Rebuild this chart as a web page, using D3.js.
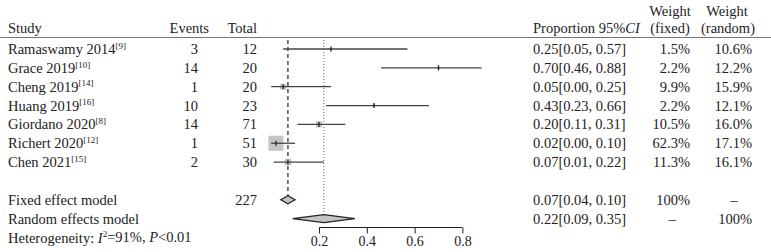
<!DOCTYPE html>
<html>
<head>
<meta charset="utf-8">
<script src="https://cdn.jsdelivr.net/npm/d3@7"></script>
<style>
  body { margin: 0; background: #fff; }
  svg text { font-family: "Liberation Serif", "DejaVu Serif", serif; font-size: 14.5px; fill: #222; }
</style>
</head>
<body>
<div id="chart"></div>
<script>
// study data
const studies = ["Ramaswamy 2014", "Grace 2019", "Cheng 2019", "Huang 2019", "Giordano 2020", "Richert 2020", "Chen 2021"];
const refs = ["[9]", "[10]", "[14]", "[16]", "[8]", "[12]", "[15]"];
const events = [3, 14, 1, 10, 14, 1, 2];
const totals = [12, 20, 20, 23, 71, 51, 30];
const prop = [0.25, 0.70, 0.05, 0.43, 0.20, 0.02, 0.07];
const lower = [0.05, 0.46, 0.00, 0.23, 0.11, 0.00, 0.01];
const upper = [0.57, 0.88, 0.25, 0.66, 0.31, 0.10, 0.22];
const wFixed = [1.5, 2.2, 9.9, 2.2, 10.5, 62.3, 11.3];
const wRandom = [10.6, 12.2, 15.9, 12.1, 16.0, 17.1, 16.1];

// pooled estimates
const fixedEst = [0.07, 0.04, 0.10];
const randomEst = [0.22, 0.09, 0.35];
const fixedTotal = 227;
const xTicks = [0.2, 0.4, 0.6, 0.8];

const width = 771, height = 252;

const svg = d3.select("#chart").append("svg")
    .attr("width", width)
    .attr("height", height);

// scales
const x = d3.scaleLinear().domain([0, 1]).range([271.2, 510.2]);
const rowNames = studies.concat(["blank", "fixed", "random", "het"]);
const y = d3.scalePoint().domain(rowNames).range([49, 237.5]);
const side = d3.scaleSqrt().domain([0, 62.3]).range([0, 15]);

const fmt = d3.format(".2f");

// header
const header = svg.append("g").attr("class", "header");
header.append("text").attr("x", 8).attr("y", 33).text("Study");
header.append("text").attr("x", 209).attr("y", 33).attr("text-anchor", "end").text("Events");
header.append("text").attr("x", 257).attr("y", 33).attr("text-anchor", "end").text("Total");
const ph = header.append("text").attr("x", 533).attr("y", 33);
ph.append("tspan").text("Proportion 95%");
ph.append("tspan").attr("font-style", "italic").text("CI");
header.append("text").attr("x", 670).attr("y", 16).attr("text-anchor", "middle").text("Weight");
header.append("text").attr("x", 670).attr("y", 33).attr("text-anchor", "middle").text("(fixed)");
header.append("text").attr("x", 727).attr("y", 16).attr("text-anchor", "middle").text("Weight");
header.append("text").attr("x", 728).attr("y", 33).attr("text-anchor", "middle").text("(random)");

svg.append("line")
    .attr("x1", 0).attr("x2", width)
    .attr("y1", 37.5).attr("y2", 37.5)
    .attr("stroke", "#777").attr("stroke-width", 1);

// reference lines
svg.append("line")
    .attr("x1", x(fixedEst[0])).attr("x2", x(fixedEst[0]))
    .attr("y1", 40).attr("y2", y("fixed") - 4)
    .attr("stroke", "#333").attr("stroke-width", 1.3)
    .attr("stroke-dasharray", "4,3");
svg.append("line")
    .attr("x1", x(randomEst[0])).attr("x2", x(randomEst[0]))
    .attr("y1", 40).attr("y2", y("random") - 4)
    .attr("stroke", "#666").attr("stroke-width", 1)
    .attr("stroke-dasharray", "1,2");

// study rows
const rows = svg.append("g").selectAll("g")
    .data(studies)
    .join("g")
    .attr("transform", d => `translate(0,${y(d)})`);

rows.append("text")
    .attr("x", 8).attr("dy", "0.35em")
    .text(d => d)
    .append("tspan")
    .attr("font-size", "9px")
    .attr("dy", "-0.6em")
    .text((d, i) => refs[i]);

rows.append("text")
    .attr("x", 198).attr("dy", "0.35em").attr("text-anchor", "end")
    .text((d, i) => events[i]);
rows.append("text")
    .attr("x", 257).attr("dy", "0.35em").attr("text-anchor", "end")
    .text((d, i) => totals[i]);
rows.append("text")
    .attr("x", 533).attr("dy", "0.35em")
    .text((d, i) => `${fmt(prop[i])}[${fmt(lower[i])}, ${fmt(upper[i])}]`);
rows.append("text")
    .attr("x", 690).attr("dy", "0.35em").attr("text-anchor", "end")
    .text((d, i) => wFixed[i].toFixed(1) + "%");
rows.append("text")
    .attr("x", 752).attr("dy", "0.35em").attr("text-anchor", "end")
    .text((d, i) => wRandom[i].toFixed(1) + "%");

// squares
rows.append("rect")
    .attr("x", (d, i) => x(prop[i]) - side(wFixed[i]) / 2)
    .attr("y", (d, i) => -side(wFixed[i]) / 2)
    .attr("width", (d, i) => side(wFixed[i]))
    .attr("height", (d, i) => side(wFixed[i]))
    .attr("fill", "#c4c4c4");

// CI lines
rows.append("line")
    .attr("x1", (d, i) => x(lower[i]))
    .attr("x2", (d, i) => x(upper[i]))
    .attr("stroke", "#444").attr("stroke-width", 1.3);

rows.append("line")
    .attr("x1", (d, i) => x(prop[i]))
    .attr("x2", (d, i) => x(prop[i]))
    .attr("y1", -2.5).attr("y2", 2.5)
    .attr("stroke", "#222").attr("stroke-width", 1.3);

// pooled rows
function diamond(est, yc, h) {
    return `M${x(est[1])},${yc} L${x(est[0])},${yc - h} L${x(est[2])},${yc} L${x(est[0])},${yc + h} Z`;
}
svg.append("path")
    .attr("d", diamond(fixedEst, y("fixed"), 4))
    .attr("fill", "#c4c4c4").attr("stroke", "#222").attr("stroke-width", 1.2);
svg.append("path")
    .attr("d", diamond(randomEst, y("random"), 4))
    .attr("fill", "#c4c4c4").attr("stroke", "#222").attr("stroke-width", 1.2);

const pooled = [
    {row: "fixed", label: "Fixed effect model", total: fixedTotal, est: fixedEst, wf: "100%", wr: "\u2013"},
    {row: "random", label: "Random effects model", total: "", est: randomEst, wf: "\u2013", wr: "100%"}
];
const prow = svg.append("g").selectAll("g")
    .data(pooled)
    .join("g")
    .attr("transform", d => `translate(0,${y(d.row)})`);
prow.append("text").attr("x", 8).attr("dy", "0.35em").text(d => d.label);
prow.append("text").attr("x", 257).attr("dy", "0.35em").attr("text-anchor", "end").text(d => d.total);
prow.append("text").attr("x", 533).attr("dy", "0.35em")
    .text(d => `${fmt(d.est[0])}[${fmt(d.est[1])}, ${fmt(d.est[2])}]`);
prow.append("text")
    .attr("x", d => d.wf === "100%" ? 690 : 672)
    .attr("text-anchor", d => d.wf === "100%" ? "end" : "middle")
    .attr("dy", "0.35em").text(d => d.wf);
prow.append("text")
    .attr("x", d => d.wr === "100%" ? 752 : 734)
    .attr("text-anchor", d => d.wr === "100%" ? "end" : "middle")
    .attr("dy", "0.35em").text(d => d.wr);

// heterogeneity
const het = svg.append("text").attr("x", 8).attr("y", y("het")).attr("dy", "0.35em");
het.append("tspan").text("Heterogeneity: ");
het.append("tspan").attr("font-style", "italic").text("I");
het.append("tspan").attr("font-size", "9px").attr("dy", "-0.6em").text("2");
het.append("tspan").attr("dy", "0.35em").text("=91%, ");
het.append("tspan").attr("font-style", "italic").text("P");
het.append("tspan").text("<0.01");

// x axis
const axis = svg.append("g")
    .attr("transform", "translate(0,227.5)")
    .call(d3.axisBottom(x).tickValues(xTicks).tickFormat(d3.format(".1f")).tickSize(6).tickPadding(3));
axis.select(".domain")
    .attr("d", `M${x(xTicks[0])},0H${x(xTicks[xTicks.length - 1])}`);
axis.selectAll("line").attr("stroke", "#222");
axis.select(".domain").attr("stroke", "#222");
axis.selectAll("text")
    .style("font-family", "'Liberation Serif', serif")
    .style("font-size", "14px")
    .attr("fill", "#222");
</script>
</body>
</html>
